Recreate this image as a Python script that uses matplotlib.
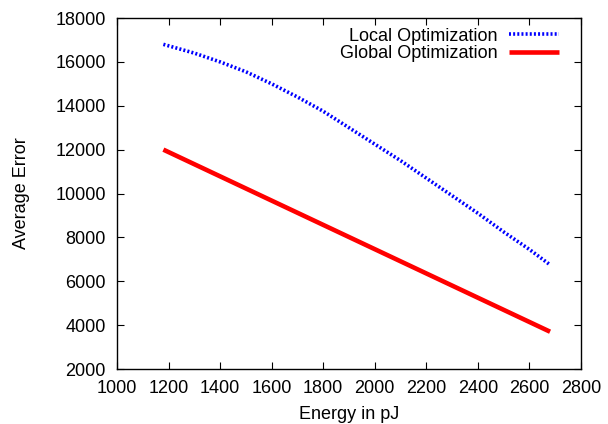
import matplotlib.pyplot as plt

plt.rcParams['font.family'] = ['Liberation Sans', 'DejaVu Sans']
plt.rcParams['font.size'] = 13

# energy (pJ) vs average error
local_energy = [1180, 1300, 1400, 1500, 1600, 1700, 1800, 1900, 2000,
                2100, 2200, 2300, 2400, 2500, 2600, 2680]
local_error = [16800, 16400, 16000, 15550, 15000, 14400, 13750, 13000, 12250,
               11500, 10700, 9900, 9100, 8250, 7450, 6750]
global_energy = [1180, 1930, 2680]
global_error = [12000, 7850, 3700]

fig = plt.figure(figsize=(6.08, 4.24), dpi=100)
ax = fig.add_axes([0.1924, 0.1297, 0.7632, 0.8278])

ax.plot(local_energy, local_error, color='#0000ff', lw=2.6,
        linestyle=(0, (0.55, 0.6)), dash_capstyle='butt', label='Local Optimization')
ax.plot(global_energy, global_error, color='#ff0000', lw=3.3,
        solid_capstyle='butt', label='Global Optimization')

ax.set_xlim(1000, 2800)
ax.set_ylim(2000, 18000)
ax.set_xticks(range(1000, 2801, 200))
ax.set_yticks(range(2000, 18001, 2000))
ax.tick_params(direction='in', length=5, top=True, right=True, labelsize=13)
ax.tick_params(axis='x', pad=8)
ax.tick_params(axis='y', pad=8)
for s in ax.spines.values():
    s.set_linewidth(1.0)

ax.set_xlabel('Energy in pJ', labelpad=6.5)
ax.set_ylabel('Average Error', labelpad=18)

leg = ax.legend(loc='upper right', bbox_to_anchor=(0.984, 1.014), frameon=False,
                markerfirst=False, handlelength=2.8, handletextpad=0.6,
                labelspacing=0.05, borderpad=0.3, fontsize=13)

fig.savefig('out.png', dpi=100)
